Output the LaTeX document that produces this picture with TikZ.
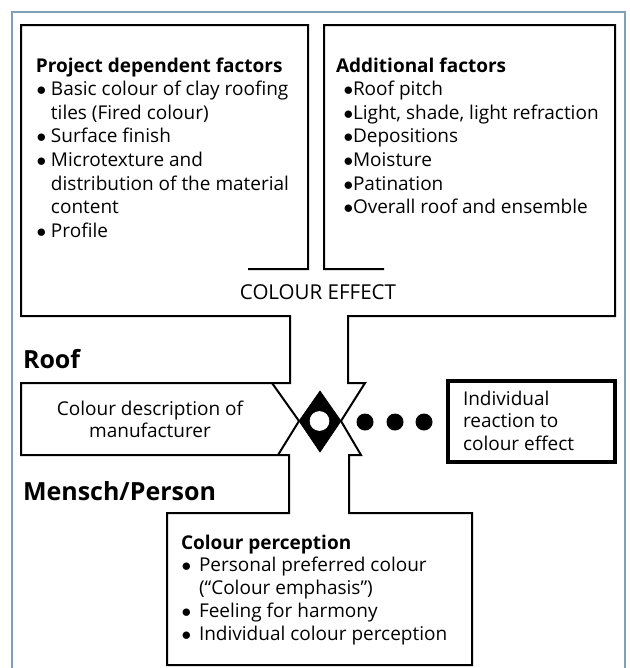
\documentclass[tikz,border=0pt]{standalone}
\usepackage{fontspec}
\setmainfont{Open Sans}
\tikzset{every picture/.style={line width=1.5pt}}
\tikzset{
  bodytxt/.style={font=\fontsize{14.25}{17.1}\selectfont, inner sep=0pt},
  toptxt/.style={font=\fontsize{14.25}{17.7}\selectfont, inner sep=0pt},
  sidelabel/.style={font=\fontsize{18.75}{22}\selectfont\bfseries, inner sep=0pt},
}
\newcommand{\itm}[2]{\hspace*{#1}\makebox[#2][l]{$\bullet$}}

\begin{document}
\begin{tikzpicture}[x=0.75pt,y=0.75pt,yscale=-1,xscale=1]
\useasboundingbox (0,0) rectangle (629,668);

%Frame
\draw [color={rgb, 255:red, 128; green, 160; blue, 184 }, line width=1.1pt] (12,672) -- (12,12) -- (625,12) -- (625,672);

%Shape: outline of boxes
\draw [line join=miter] (248,269) -- (308,269) -- (308,25) -- (21,25) -- (21,316) -- (290,316) -- (290,383) -- (21,383) -- (21,455) -- (289,455) -- (289,513) -- (167,513) -- (167,665) -- (472,665) -- (472,513) -- (349,513) -- (349,455) -- (361,455) -- (341,421) -- (365,383) -- (348,383) -- (348,316) -- (615,316) -- (615,25) -- (324,25) -- (324,269) -- (384,269) ;
%Straight Lines: left chevron
\draw [line join=miter] (272,383) -- (299,421) -- (278,455) ;
%Shape: Diamond
\draw [fill=black, line width=0.5pt] (320,391) -- (341,421) -- (320,452) -- (299,421) -- cycle ;
%Shape: Circle
\draw [fill=white, draw=white, line width=0.5pt] (319.5,421) circle [radius=9.5] ;
%Shape: Dots
\foreach \dx in {365,395,424} {
  \fill (\dx,422) circle [radius=8.5] ;
}
%Shape: Rectangle
\draw [line width=2.6pt] (448,381) rectangle (615,462) ;

% Text Node
\draw (35,56.6) node (prj) [anchor=north west][toptxt][align=left] {\textbf{Project dependent factors}\\\itm{0.5pt}{10.75pt}Basic colour of clay roofing\\\hspace*{11.25pt}tiles (Fired colour)\\\itm{0.5pt}{10.75pt}Surface finish\\\itm{0.5pt}{10.75pt}Microtexture and\\\hspace*{11.25pt}distribution of the material\\\hspace*{11.25pt}content\\\itm{0.5pt}{10.75pt}Profile};
% Text Node
\draw (335,56.6) node (add) [anchor=north west][toptxt][align=left] {\textbf{Additional factors}\\\itm{5.8pt}{6.95pt}Roof pitch\\\itm{5.8pt}{6.95pt}Light, shade, light refraction\\\itm{5.8pt}{6.95pt}Depositions\\\itm{5.8pt}{6.95pt}Moisture\\\itm{5.8pt}{6.95pt}Patination\\\itm{5.8pt}{6.95pt}Overall roof and ensemble};
% Text Node
\draw (318,299) node (eff) [anchor=base][inner sep=0pt][font=\fontsize{15.4}{18}\selectfont] {COLOUR EFFECT};
% Text Node
\draw (22,368) node (roof) [anchor=base west][sidelabel] {Roof};
% Text Node
\draw (22,500) node (pers) [anchor=base west][sidelabel] {Mensch/Person};
% Text Node
\draw (150,399.6) node (manu) [anchor=north][bodytxt][align=center] {Colour description of\\manufacturer};
% Text Node
\draw (462,389.6) node (react) [anchor=north west][bodytxt][align=left] {Individual\\reaction to\\colour effect};
% Text Node
\draw (180,533.6) node (perc) [anchor=north west][bodytxt][align=left] {\textbf{Colour perception}\\\itm{0.5pt}{13pt}Personal preferred colour\\\hspace*{13.5pt}(“Colour emphasis”)\\\itm{0.5pt}{13pt}Feeling for harmony\\\itm{0.5pt}{13pt}Individual colour perception};

\end{tikzpicture}
\end{document}
